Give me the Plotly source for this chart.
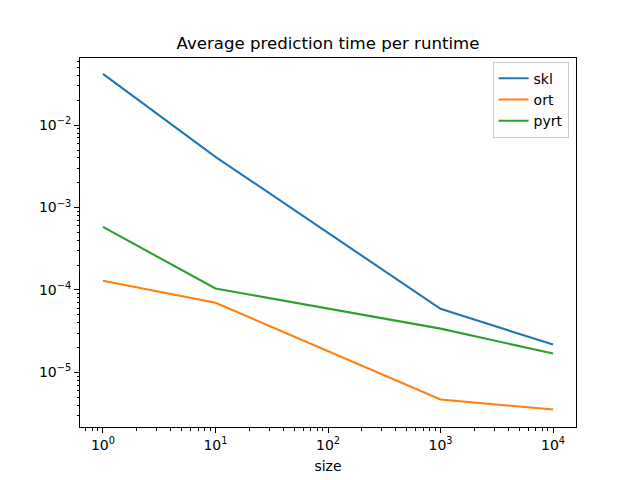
import plotly.graph_objects as go

sizes = [1, 10, 1000, 10000]
skl = [0.0419, 0.00413, 5.9e-5, 2.17e-5]
ort = [1.29e-4, 7.0e-5, 4.67e-6, 3.53e-6]
pyrt = [5.83e-4, 1.04e-4, 3.39e-5, 1.69e-5]

x_tickvals = [1, 10, 100, 1000, 10000]
x_ticktext = ["10<sup>0</sup>", "10<sup>1</sup>", "10<sup>2</sup>", "10<sup>3</sup>", "10<sup>4</sup>"]
y_tickvals = [1e-2, 1e-3, 1e-4, 1e-5]
y_ticktext = ["10<sup>−2</sup>", "10<sup>−3</sup>", "10<sup>−4</sup>", "10<sup>−5</sup>"]

fig = go.Figure()
for name, vals, col in [("skl", skl, "#1f77b4"), ("ort", ort, "#ff7f0e"), ("pyrt", pyrt, "#2ca02c")]:
    fig.add_trace(go.Scatter(x=sizes, y=vals, mode="lines", name=name,
                             line=dict(color=col, width=2.1)))

axis_common = dict(
    type="log", showgrid=False, zeroline=False, automargin=False,
    showline=True, linecolor="black", linewidth=1, mirror=True,
    ticks="outside", ticklen=5, tickcolor="black", tickwidth=1,
    minor=dict(ticks="outside", ticklen=2.5, tickcolor="black", tickwidth=0.8, dtick="D1", showgrid=False),
    tickfont=dict(family="DejaVu Sans", size=14, color="black"),
)

fig.update_layout(
    width=640, height=480,
    margin=dict(l=80, r=64, t=58, b=53, autoexpand=False),
    paper_bgcolor="white", plot_bgcolor="white",
    font=dict(family="DejaVu Sans", size=14, color="black"),
    title=dict(text="Average prediction time per runtime", x=328 / 640, xanchor="center", xref="container",
               y=1 - 43 / 480, yanchor="middle", yref="container",
               font=dict(family="DejaVu Sans", size=16.6, color="black")),
    xaxis=dict(axis_common, range=[-0.204, 4.204], tickvals=x_tickvals, ticktext=x_ticktext,
               title=dict(text="size", font=dict(family="DejaVu Sans", size=14), standoff=9)),
    yaxis=dict(axis_common, range=[-5.664, -1.184], tickvals=y_tickvals, ticktext=y_ticktext),
    legend=dict(x=0.985, y=0.99, xanchor="right", yanchor="top",
                bgcolor="rgba(255,255,255,0.8)", bordercolor="#cccccc", borderwidth=1,
                font=dict(family="DejaVu Sans", size=14), tracegroupgap=0),
    showlegend=True,
)

fig.write_html("out.html", config={"displayModeBar": False},
               post_script="document.body.style.margin='0';")
